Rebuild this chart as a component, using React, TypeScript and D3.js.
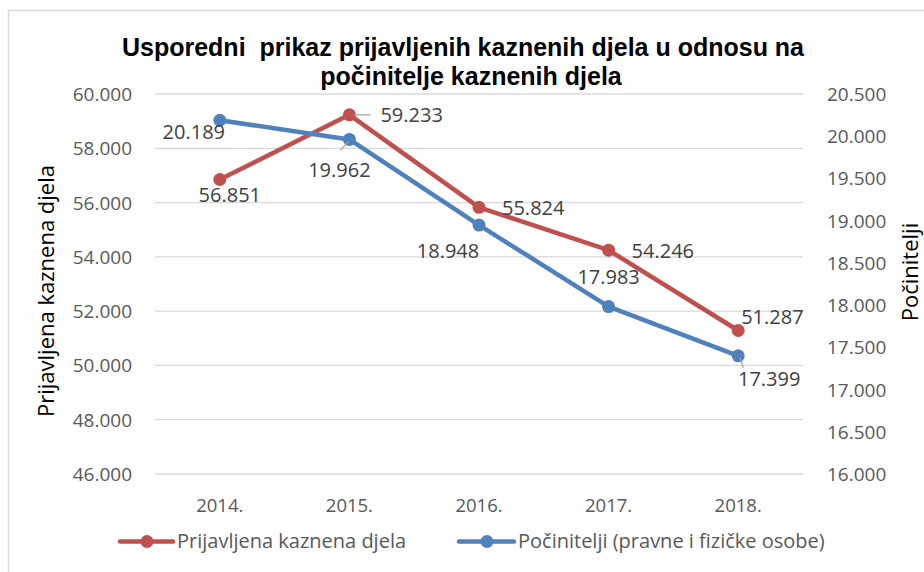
import React from "react";
import * as d3 from "d3";

const years = ["2014.", "2015.", "2016.", "2017.", "2018."];
const reportedOffences = [56851, 59233, 55824, 54246, 51287];
const perpetrators = [20189, 19962, 18948, 17983, 17399];
const leftTicks = [46000, 48000, 50000, 52000, 54000, 56000, 58000, 60000];
const rightTicks = [16000, 16500, 17000, 17500, 18000, 18500, 19000, 19500, 20000, 20500];
const titleLines = ["Usporedni  prikaz prijavljenih kaznenih djela u odnosu na", "počinitelje kaznenih djela"];
const seriesNames = ["Prijavljena kaznena djela", "Počinitelji (pravne i fizičke osobe)"];
const leftAxisTitle = "Prijavljena kaznena djela";
const rightAxisTitle = "Počinitelji";

// label placement relative to each point (layout only)
type Place = { dx: number; dy: number; anchor: string; leader?: number[] };
const redPlace: Place[] = [
  { dx: 10, dy: 23, anchor: "middle" },
  { dx: 31, dy: 7, anchor: "start", leader: [5, 0, 21, 0] },
  { dx: 23, dy: 8, anchor: "start" },
  { dx: 23, dy: 8, anchor: "start" },
  { dx: 3, dy: -6, anchor: "start" },
];
const bluePlace: Place[] = [
  { dx: -26, dy: 19, anchor: "middle" },
  { dx: -10, dy: 38, anchor: "middle", leader: [-1, 2, -9, 11] },
  { dx: -31, dy: 33, anchor: "middle" },
  { dx: 0, dy: -23, anchor: "middle" },
  { dx: 31, dy: 30, anchor: "middle", leader: [2, 2, 5, 12] },
];

const RED = "#C0504D";
const BLUE = "#4F81BD";
const FONT = "'Open Sans', 'Noto Sans', sans-serif";

const fmt = d3
  .formatLocale({ decimal: ",", thousands: ".", grouping: [3], currency: ["", ""] })
  .format(",.0f");

export default function App() {
  const W = 924;
  const H = 572;
  const plot = { left: 155, right: 803, top: 94, bottom: 474 };

  const x = d3.scalePoint<string>().domain(years).range([plot.left, plot.right]).padding(0.5);
  const yL = d3.scaleLinear().domain([46000, 60000]).range([plot.bottom, plot.top]);
  const yR = d3.scaleLinear().domain([16000, 20500]).range([plot.bottom, plot.top]);

  const lineL = d3
    .line<number>()
    .x((_, i) => x(years[i]) as number)
    .y((d) => yL(d));
  const lineR = d3
    .line<number>()
    .x((_, i) => x(years[i]) as number)
    .y((d) => yR(d));

  const renderLabels = (vals: number[], scale: (v: number) => number, place: Place[]) =>
    vals.map((v, i) => {
      const px = x(years[i]) as number;
      const py = scale(v);
      const p = place[i];
      return (
        <g key={i}>
          {p.leader && (
            <line
              x1={px + p.leader[0]}
              y1={py + p.leader[1]}
              x2={px + p.leader[2]}
              y2={py + p.leader[3]}
              stroke="#A6A6A6"
              strokeWidth={1.3}
            />
          )}
          <text
            x={px + p.dx}
            y={py + p.dy}
            textAnchor={p.anchor as any}
            fontFamily={FONT}
            fontSize={20}
            fill="#404040"
          >
            {fmt(v)}
          </text>
        </g>
      );
    });

  return (
    <svg
      width={W}
      height={H}
      style={{ position: "absolute", left: 0, top: 0, background: "#fff" }}
    >
      <rect x={0} y={0} width={W} height={H} fill="#fff" />
      <rect x={8.5} y={10.5} width={1000} height={1000} fill="#fff" stroke="#D9D9D9" strokeWidth={1.5} />

      {/* title */}
      <text
        fontFamily="'Liberation Sans', Arial, sans-serif"
        fontWeight="bold"
        fontSize={25}
        fill="#000"
        textAnchor="middle"
        style={{ whiteSpace: "pre" }}
      >
        <tspan x={463} y={56}>{titleLines[0]}</tspan>
        <tspan x={471} y={85}>{titleLines[1]}</tspan>
      </text>

      {/* gridlines */}
      {leftTicks.map((t) => (
        <line
          key={t}
          x1={plot.left}
          x2={plot.right}
          y1={yL(t)}
          y2={yL(t)}
          stroke="#D9D9D9"
          strokeWidth={1.3}
        />
      ))}

      {/* left ticks */}
      {leftTicks.map((t) => (
        <text
          key={t}
          x={132}
          y={yL(t) + 7}
          textAnchor="end"
          fontFamily={FONT}
          fontSize={19}
          fill="#595959"
        >
          {fmt(t)}
        </text>
      ))}
      {/* right ticks */}
      {rightTicks.map((t) => (
        <text
          key={t}
          x={827}
          y={yR(t) + 7}
          textAnchor="start"
          fontFamily={FONT}
          fontSize={19}
          fill="#595959"
        >
          {fmt(t)}
        </text>
      ))}
      {/* x ticks */}
      {years.map((yr) => (
        <text
          key={yr}
          x={x(yr) as number}
          y={512}
          textAnchor="middle"
          fontFamily={FONT}
          fontSize={18.5}
          fill="#595959"
        >
          {yr}
        </text>
      ))}

      {/* axis titles */}
      <text
        transform="translate(54,291) rotate(-90)"
        textAnchor="middle"
        fontFamily={FONT}
        fontSize={22}
        fill="#000"
      >
        {leftAxisTitle}
      </text>
      <text
        transform="translate(918,272) rotate(-90)"
        textAnchor="middle"
        fontFamily={FONT}
        fontSize={22}
        fill="#000"
      >
        {rightAxisTitle}
      </text>

      {/* lines */}
      <path d={lineL(reportedOffences) || ""} fill="none" stroke={RED} strokeWidth={4.5} strokeLinejoin="round" />
      {reportedOffences.map((v, i) => (
        <circle key={i} cx={x(years[i]) as number} cy={yL(v)} r={6.5} fill={RED} />
      ))}
      <path d={lineR(perpetrators) || ""} fill="none" stroke={BLUE} strokeWidth={4.5} strokeLinejoin="round" />
      {perpetrators.map((v, i) => (
        <circle key={i} cx={x(years[i]) as number} cy={yR(v)} r={6.5} fill={BLUE} />
      ))}

      {/* data labels */}
      {renderLabels(reportedOffences, yL, redPlace)}
      {renderLabels(perpetrators, yR, bluePlace)}

      {/* legend */}
      <g>
        <line x1={120} x2={173} y1={541.5} y2={541.5} stroke={RED} strokeWidth={4.5} strokeLinecap="round" />
        <circle cx={147} cy={541.5} r={6.5} fill={RED} />
        <text x={177} y={548} fontFamily={FONT} fontSize={20} fill="#595959">
          {seriesNames[0]}
        </text>
        <line x1={459} x2={514} y1={541.5} y2={541.5} stroke={BLUE} strokeWidth={4.5} strokeLinecap="round" />
        <circle cx={487} cy={541.5} r={6.5} fill={BLUE} />
        <text x={518} y={548} fontFamily={FONT} fontSize={20} fill="#595959">
          {seriesNames[1]}
        </text>
      </g>
    </svg>
  );
}
